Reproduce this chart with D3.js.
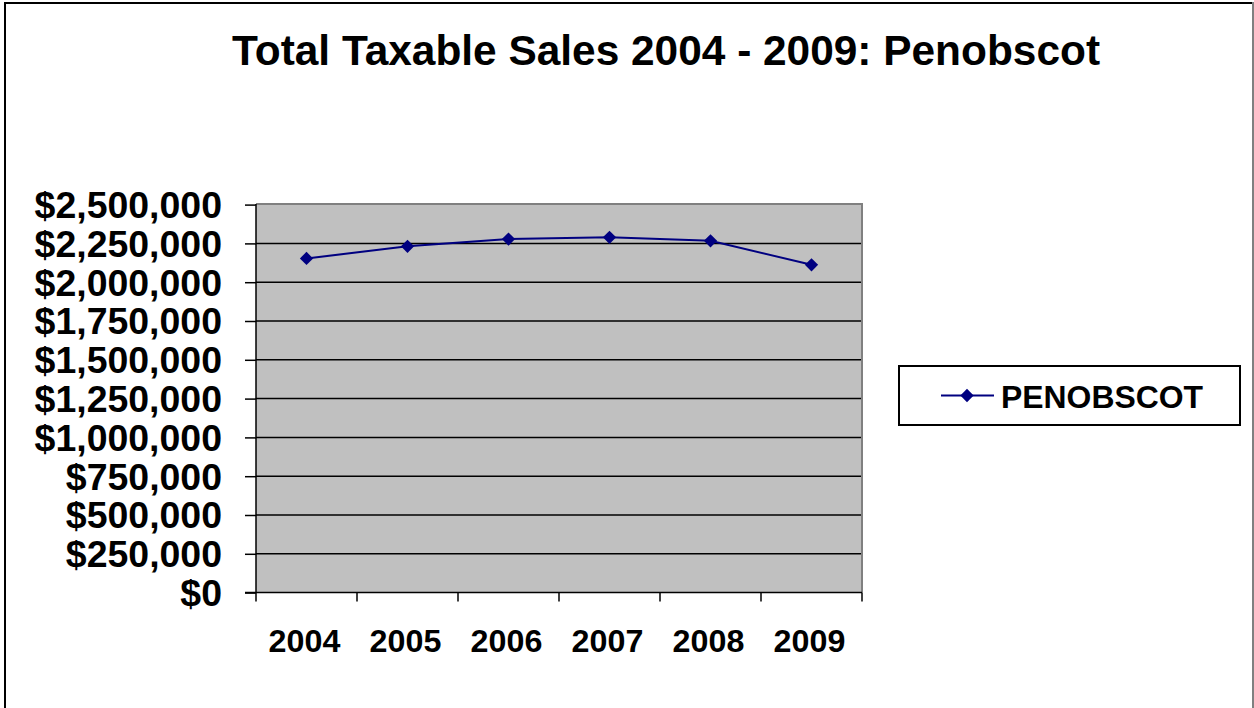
<!DOCTYPE html>
<html>
<head>
<meta charset="utf-8">
<script src="https://cdn.jsdelivr.net/npm/d3@7"></script>
<style>
  html, body { margin: 0; padding: 0; background: #fff; }
  svg { display: block; font-family: "Liberation Sans", Arial, sans-serif; font-weight: bold; }
</style>
</head>
<body>
<svg id="chart" width="1254" height="708"></svg>
<script>
// Total taxable sales by year, Penobscot county
const years = ["2004", "2005", "2006", "2007", "2008", "2009"];
const sales = [2153000, 2231000, 2278000, 2289000, 2267000, 2112000];
const yTicks = [0, 250000, 500000, 750000, 1000000, 1250000, 1500000, 1750000, 2000000, 2250000, 2500000];
const seriesName = "PENOBSCOT";
const chartTitle = "Total Taxable Sales 2004 - 2009: Penobscot";

const svg = d3.select("#chart");
const plot = { left: 256, right: 862, top: 204, bottom: 592.6 };
const lineColor = "#000080";

// fit a text element to a width ratio while keeping its anchor
function widen(sel, factor) {
  sel.each(function () {
    const w = this.getComputedTextLength();
    d3.select(this).attr("textLength", w * factor).attr("lengthAdjust", "spacingAndGlyphs");
  });
}

// outer frame
svg.append("line").attr("x1", 5).attr("x2", 5).attr("y1", 2).attr("y2", 708)
  .attr("stroke", "#000").attr("stroke-width", 2);
svg.append("line").attr("x1", 4).attr("x2", 1253).attr("y1", 3).attr("y2", 3)
  .attr("stroke", "#000").attr("stroke-width", 2);
svg.append("line").attr("x1", 1253).attr("x2", 1253).attr("y1", 2).attr("y2", 708)
  .attr("stroke", "#808080").attr("stroke-width", 2);

// title
svg.append("text")
  .attr("x", 666).attr("y", 65)
  .attr("text-anchor", "middle")
  .attr("font-size", 42)
  .attr("textLength", 868).attr("lengthAdjust", "spacingAndGlyphs")
  .text(chartTitle);

const x = d3.scaleBand().domain(years).range([plot.left, plot.right]);
const y = d3.scaleLinear().domain([0, 2500000]).range([plot.bottom, plot.top + 0.6]);

// plot background
svg.append("rect")
  .attr("x", plot.left).attr("y", plot.top)
  .attr("width", plot.right - plot.left).attr("height", plot.bottom - plot.top)
  .attr("fill", "#c0c0c0");

// gridlines
svg.append("g")
  .selectAll("line")
  .data(yTicks.filter(d => d > 0 && d < 2500000))
  .join("line")
  .attr("x1", plot.left).attr("x2", plot.right)
  .attr("y1", d => y(d)).attr("y2", d => y(d))
  .attr("stroke", "#000").attr("stroke-width", 1.5);

// plot border (top and right)
svg.append("path")
  .attr("d", `M${plot.left},${plot.top} H${plot.right} V${plot.bottom}`)
  .attr("fill", "none").attr("stroke", "#808080").attr("stroke-width", 2);

// y axis
const yAxis = svg.append("g")
  .attr("transform", `translate(${plot.left},0)`)
  .call(d3.axisLeft(y).tickValues(yTicks).tickSize(11).tickPadding(23)
    .tickFormat(d => "$" + d3.format(",")(d)));
yAxis.select(".domain").attr("stroke", "#000").attr("stroke-width", 1.5).attr("d", `M0,${plot.top}V${plot.bottom}`);
yAxis.selectAll(".tick line").attr("stroke", "#000").attr("stroke-width", 1.5);
yAxis.selectAll(".tick text")
  .attr("font-size", 36).attr("font-weight", "bold")
  .attr("font-family", "Liberation Sans, Arial, sans-serif")
  .attr("fill", "#000").attr("dy", "0.36em")
  .call(widen, 1.04);

// x axis: ticks at category boundaries
const boundaries = years.map(d => x(d)).concat([plot.right]);
const xAxis = svg.append("g").attr("transform", `translate(0,${plot.bottom})`);
xAxis.append("line").attr("x1", plot.left - 11).attr("x2", plot.right)
  .attr("stroke", "#000").attr("stroke-width", 1.5);
xAxis.selectAll("line.tick")
  .data(boundaries)
  .join("line").attr("class", "tick")
  .attr("x1", d => d).attr("x2", d => d).attr("y1", 0).attr("y2", 9)
  .attr("stroke", "#000").attr("stroke-width", 1.5);
xAxis.selectAll("text")
  .data(years)
  .join("text")
  .attr("x", d => x(d) + x.bandwidth() / 2 - 2)
  .attr("y", 59)
  .attr("text-anchor", "middle")
  .attr("font-size", 31)
  .text(d => d)
  .call(widen, 1.04);

// series line and markers
const line = d3.line().x((d, i) => x(years[i]) + x.bandwidth() / 2).y(d => y(d));
svg.append("path")
  .datum(sales)
  .attr("d", line)
  .attr("fill", "none").attr("stroke", lineColor).attr("stroke-width", 2);

const diamond = d3.symbol().type(d3.symbolSquare).size(88);
svg.append("g")
  .selectAll("path")
  .data(sales)
  .join("path")
  .attr("d", diamond)
  .attr("transform", (d, i) => `translate(${x(years[i]) + x.bandwidth() / 2},${y(d)}) rotate(45)`)
  .attr("fill", lineColor);

// legend
const legend = svg.append("g");
legend.append("rect")
  .attr("x", 899).attr("y", 366).attr("width", 341).attr("height", 59)
  .attr("fill", "#fff").attr("stroke", "#000").attr("stroke-width", 2);
legend.append("line")
  .attr("x1", 941).attr("x2", 994).attr("y1", 395.5).attr("y2", 395.5)
  .attr("stroke", lineColor).attr("stroke-width", 2);
legend.append("path")
  .attr("d", diamond)
  .attr("transform", "translate(967,395.5) rotate(45)")
  .attr("fill", lineColor);
legend.append("text")
  .attr("x", 1001).attr("y", 408)
  .attr("font-size", 31)
  .attr("textLength", 202).attr("lengthAdjust", "spacingAndGlyphs")
  .text(seriesName);
</script>
</body>
</html>
